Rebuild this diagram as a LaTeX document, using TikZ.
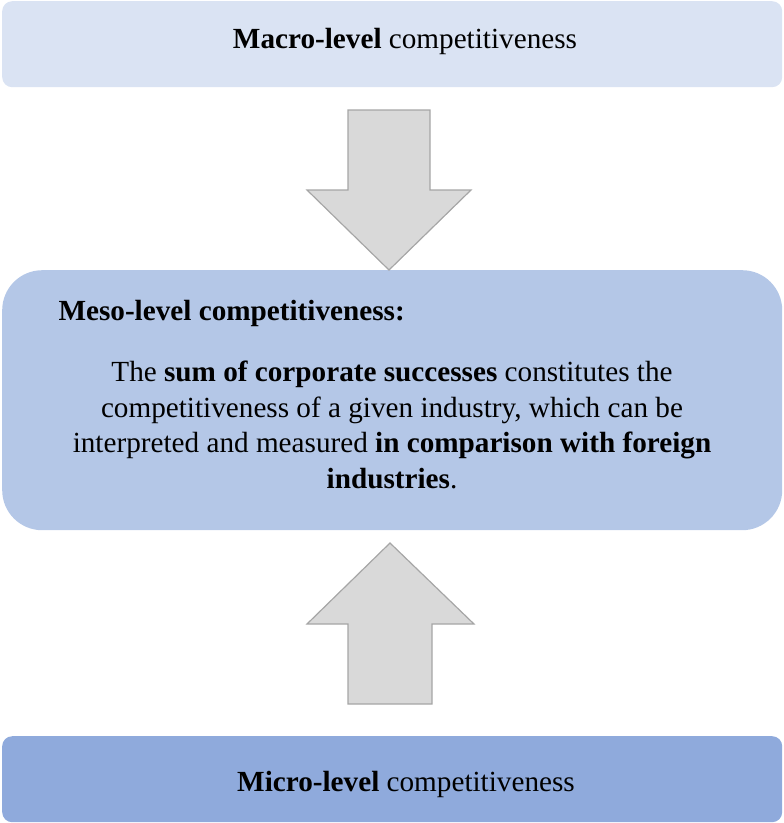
\documentclass[tikz,border=0pt]{standalone}
\usepackage{fontspec}
\setmainfont{Liberation Serif}
\begin{document}
\begin{tikzpicture}[x=1pt,y=-1pt,
  levelbox/.style={draw=none, rounded corners=#1, inner sep=0pt,
    minimum width=780pt, anchor=north west},
  blockarrow/.style={fill=arrowfill, draw=arrowline, line width=1.2pt, line join=miter},
  txt/.style={font=\fontsize{29.2}{35.8}\selectfont}]
\definecolor{macrofill}{HTML}{DAE3F3}
\definecolor{mesofill}{HTML}{B4C7E7}
\definecolor{microfill}{HTML}{8FAADC}
\definecolor{arrowfill}{HTML}{D9D9D9}
\definecolor{arrowline}{HTML}{A6A6A6}
\useasboundingbox (0,0) rectangle (784,823);

% the three levels
\node[levelbox=10pt, fill=macrofill, minimum height=86pt] (macro) at (2,1) {};
\node[txt] at (405,41) {\textbf{Macro-level} competitiveness};

\node[levelbox=40pt, fill=mesofill, minimum height=260pt] (meso) at (2,270) {};
\node[txt, anchor=west] (mesotitle) at (55,313) {\textbf{Meso-level competitiveness:}};
\node[txt, align=center] (mesotext) at (392,425)
  {The \textbf{sum of corporate successes} constitutes the\\
   competitiveness of a given industry, which can be\\
   interpreted and measured \textbf{in comparison with foreign}\\
   \textbf{industries}.};

\node[levelbox=10pt, fill=microfill, minimum height=86pt] (micro) at (2,736) {};
\node[txt] at (406,784) {\textbf{Micro-level} competitiveness};

% influence from the macro level down to the meso level
\draw[blockarrow] (348,110) -- (430,110) -- (430,190) -- (471,190)
  -- (meso.north -| 389,0) -- (307,190) -- (348,190) -- cycle;

% influence from the micro level up to the meso level
\draw[blockarrow] (348,704) -- (432,704) -- (432,624) -- (474,624)
  -- (390,543) -- (307,624) -- (348,624) -- cycle;
\end{tikzpicture}
\end{document}
